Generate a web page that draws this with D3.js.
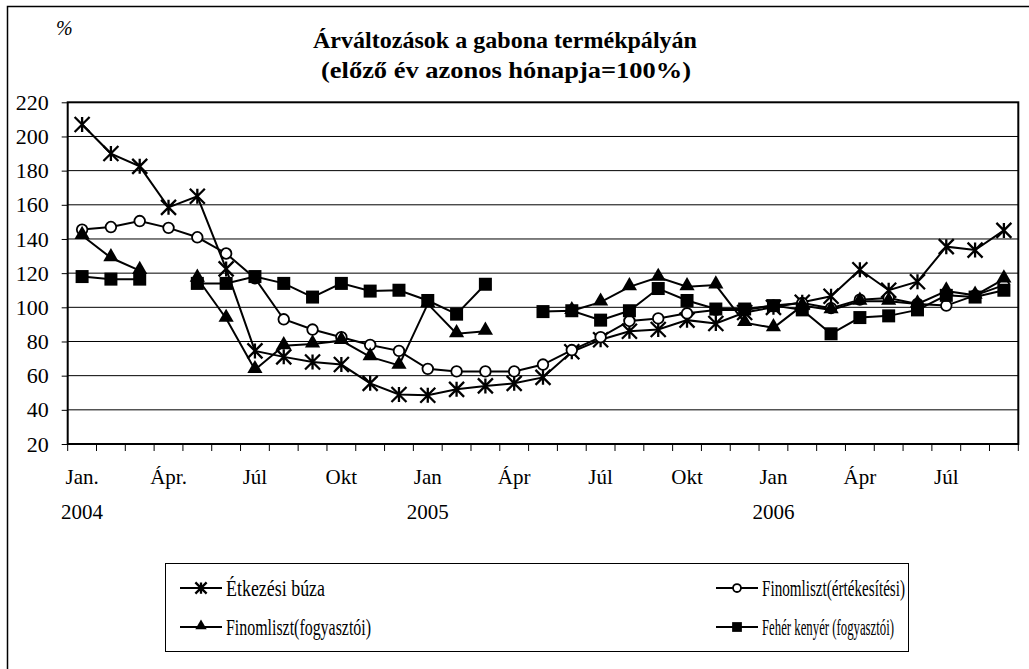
<!DOCTYPE html>
<html>
<head>
<meta charset="utf-8">
<script src="https://cdn.jsdelivr.net/npm/d3@7/dist/d3.min.js"></script>
<style>
  body { margin: 0; background: #fff; }
  text { font-family: "Liberation Serif", "DejaVu Serif", serif; fill: #000; }
</style>
</head>
<body>
<svg id="chart" width="1029" height="669"></svg>
<script>
// month labels (Jan 2004 .. Sep 2006)
var monthLabels = ["Jan.", "", "", "Ápr.", "", "", "Júl", "", "", "Okt", "", "",
                   "Jan", "", "", "Ápr", "", "", "Júl", "", "", "Okt", "", "",
                   "Jan", "", "", "Ápr", "", "", "Júl", "", ""];
var yearLabels = {0: "2004", 12: "2005", 24: "2006"};
var yTicks = [20, 40, 60, 80, 100, 120, 140, 160, 180, 200, 220];

// series values, % (null = no data)
var busa = [207, 190, 182.5, 158.5, 165, 122.5, 74.5, 71, 68, 66.5, 55.5, 49,
            48.5, 52, 54, 55.5, 59, 74, 81, 86, 87, 92.5, 90.5, 97,
            100, 103, 106.5, 122, 110, 115, 135.5, 133.5, 145];
var finomErt = [145.5, 147, 150.5, 146.5, 141, 131.5, 117, 93, 87, 82.5, 78, 74.5,
                64, 62.5, 62.5, 62.5, 66.5, 75, 82.5, 92, 93.5, 96.5, 98.5, 98.5,
                101, 102.5, 99.5, 104.5, 105.5, 102, 101, 107, 113];
var finomFogy = [142, 129, 121.5, null, 117, 93.5, 63.5, 77.5, 78.5, 80.5, 71, 66,
                 102, 84.5, 86, null, null, 98, 103, 112, 117.5, 112, 113, 91,
                 88, 101, 98.5, 103.5, 103.5, 102, 109.5, 107, 116.5];
var kenyer = [118, 116.5, 116.5, null, 114, 114, 118, 114, 106, 114, 109.5, 110,
              104, 96, 113.5, null, 97.5, 98, 92.5, 98, 111, 104, 99, 99,
              101, 98.5, 84.5, 94, 95, 98.5, 107, 106, 110];

var series = [
  {name: "Étkezési búza", values: busa, marker: "star", w: 99},
  {name: "Finomliszt(értékesítési)", values: finomErt, marker: "circle", w: 143},
  {name: "Finomliszt(fogyasztói)", values: finomFogy, marker: "triangle", w: 145},
  {name: "Fehér kenyér (fogyasztói)", values: kenyer, marker: "square", w: 132}
];

var svg = d3.select("#chart");

// outer frame
svg.append("rect")
    .attr("x", 7.5).attr("y", 6.5)
    .attr("width", 1040).attr("height", 700)
    .attr("fill", "none").attr("stroke", "#000").attr("stroke-width", 1.5);

var plotLeft = 67.7, plotRight = 1018.3, plotTop = 102.3, plotBottom = 444;

var x = d3.scaleBand().domain(d3.range(monthLabels.length)).range([plotLeft, plotRight]);
var y = d3.scaleLinear().domain([20, 220]).range([plotBottom, plotTop]);
function cx(i) { return x(i) + x.bandwidth() / 2; }

// gridlines
svg.append("g").selectAll("line")
    .data(yTicks.slice(1, -1))
    .enter().append("line")
    .attr("x1", plotLeft).attr("x2", plotRight)
    .attr("y1", function(d) { return y(d); })
    .attr("y2", function(d) { return y(d); })
    .attr("stroke", "#000").attr("stroke-width", 1);

// plot frame
svg.append("rect")
    .attr("x", plotLeft).attr("y", plotTop)
    .attr("width", plotRight - plotLeft).attr("height", plotBottom - plotTop)
    .attr("fill", "none").attr("stroke", "#000").attr("stroke-width", 2);

// y axis
var yAxis = d3.axisLeft(y).tickValues(yTicks).tickSize(6).tickPadding(13);
var yg = svg.append("g").attr("transform", "translate(" + plotLeft + ",0)").call(yAxis);
yg.select(".domain").remove();
yg.selectAll("line").attr("stroke", "#000");
yg.selectAll("text").attr("fill", "#000")
    .style("font-size", "22px").style("font-family", "Liberation Serif");

// x ticks at band boundaries
svg.append("g").selectAll("line")
    .data(d3.range(monthLabels.length + 1))
    .enter().append("line")
    .attr("x1", function(i) { return plotLeft + i * x.bandwidth(); })
    .attr("x2", function(i) { return plotLeft + i * x.bandwidth(); })
    .attr("y1", plotBottom).attr("y2", plotBottom + 7)
    .attr("stroke", "#000").attr("stroke-width", 1);

// month + year labels
svg.append("g").selectAll("text")
    .data(d3.range(monthLabels.length).filter(function(i) { return monthLabels[i]; }))
    .enter().append("text")
    .attr("x", cx).attr("y", 484)
    .attr("text-anchor", "middle")
    .style("font-size", "21px")
    .text(function(i) { return monthLabels[i]; });

svg.append("g").selectAll("text")
    .data(Object.keys(yearLabels))
    .enter().append("text")
    .attr("x", function(k) { return cx(+k); }).attr("y", 519)
    .attr("text-anchor", "middle")
    .style("font-size", "21px")
    .text(function(k) { return yearLabels[k]; });

// titles
svg.append("text").attr("x", 56).attr("y", 35)
    .style("font-size", "20px").style("font-style", "italic").text("%");
svg.append("text").attr("x", 313).attr("y", 48)
    .attr("textLength", 384).attr("lengthAdjust", "spacingAndGlyphs")
    .style("font-size", "23px").style("font-weight", "bold")
    .text("Árváltozások a gabona termékpályán");
svg.append("text").attr("x", 321).attr("y", 78)
    .attr("textLength", 370).attr("lengthAdjust", "spacingAndGlyphs")
    .style("font-size", "23px").style("font-weight", "bold")
    .text("(előző év azonos hónapja=100%)");

// marker drawing
function drawMarker(g, type, px, py, s) {
  if (type === "star") {
    var r = 7.5 * s;
    g.append("path")
      .attr("d", "M" + (px - r) + "," + (py - r) + "L" + (px + r) + "," + (py + r) +
                 "M" + (px - r) + "," + (py + r) + "L" + (px + r) + "," + (py - r) +
                 "M" + px + "," + (py - r) + "L" + px + "," + (py + r))
      .attr("stroke", "#000").attr("stroke-width", 2.3).attr("fill", "none");
  } else if (type === "circle") {
    g.append("circle").attr("cx", px).attr("cy", py).attr("r", 5.3 * s)
      .attr("fill", "#fff").attr("stroke", "#000").attr("stroke-width", 1.8);
  } else if (type === "triangle") {
    g.append("path")
      .attr("d", d3.symbol().type(d3.symbolTriangle).size(100 * s * s)())
      .attr("transform", "translate(" + px + "," + (py - 1) + ")")
      .attr("fill", "#000");
  } else {
    var h = 6.5 * s;
    g.append("rect").attr("x", px - h).attr("y", py - h)
      .attr("width", 2 * h).attr("height", 2 * h).attr("fill", "#000");
  }
}

var line = d3.line()
    .defined(function(d) { return d != null; })
    .x(function(d, i) { return cx(i); })
    .y(function(d) { return y(d); });

series.forEach(function(s) {
  var g = svg.append("g");
  g.append("path")
    .datum(s.values)
    .attr("d", line)
    .attr("fill", "none").attr("stroke", "#000").attr("stroke-width", 2);
  s.values.forEach(function(v, i) {
    if (v != null) drawMarker(g, s.marker, cx(i), y(v), 1);
  });
});

// legend
var legend = svg.append("g");
legend.append("rect")
    .attr("x", 165.5).attr("y", 563.5).attr("width", 743).attr("height", 88)
    .attr("fill", "#fff").attr("stroke", "#000").attr("stroke-width", 1);
var legendPos = [[180, 588], [716, 588], [180, 627], [716, 627]];
series.forEach(function(s, i) {
  var p = legendPos[i];
  legend.append("line")
    .attr("x1", p[0]).attr("x2", p[0] + 42)
    .attr("y1", p[1]).attr("y2", p[1])
    .attr("stroke", "#000").attr("stroke-width", 2);
  drawMarker(legend, s.marker, p[0] + 21, p[1], 0.75);
  legend.append("text")
    .attr("x", p[0] + 46).attr("y", p[1] + 8)
    .attr("textLength", s.w).attr("lengthAdjust", "spacingAndGlyphs")
    .style("font-size", "23px")
    .text(s.name);
});
</script>
</body>
</html>
